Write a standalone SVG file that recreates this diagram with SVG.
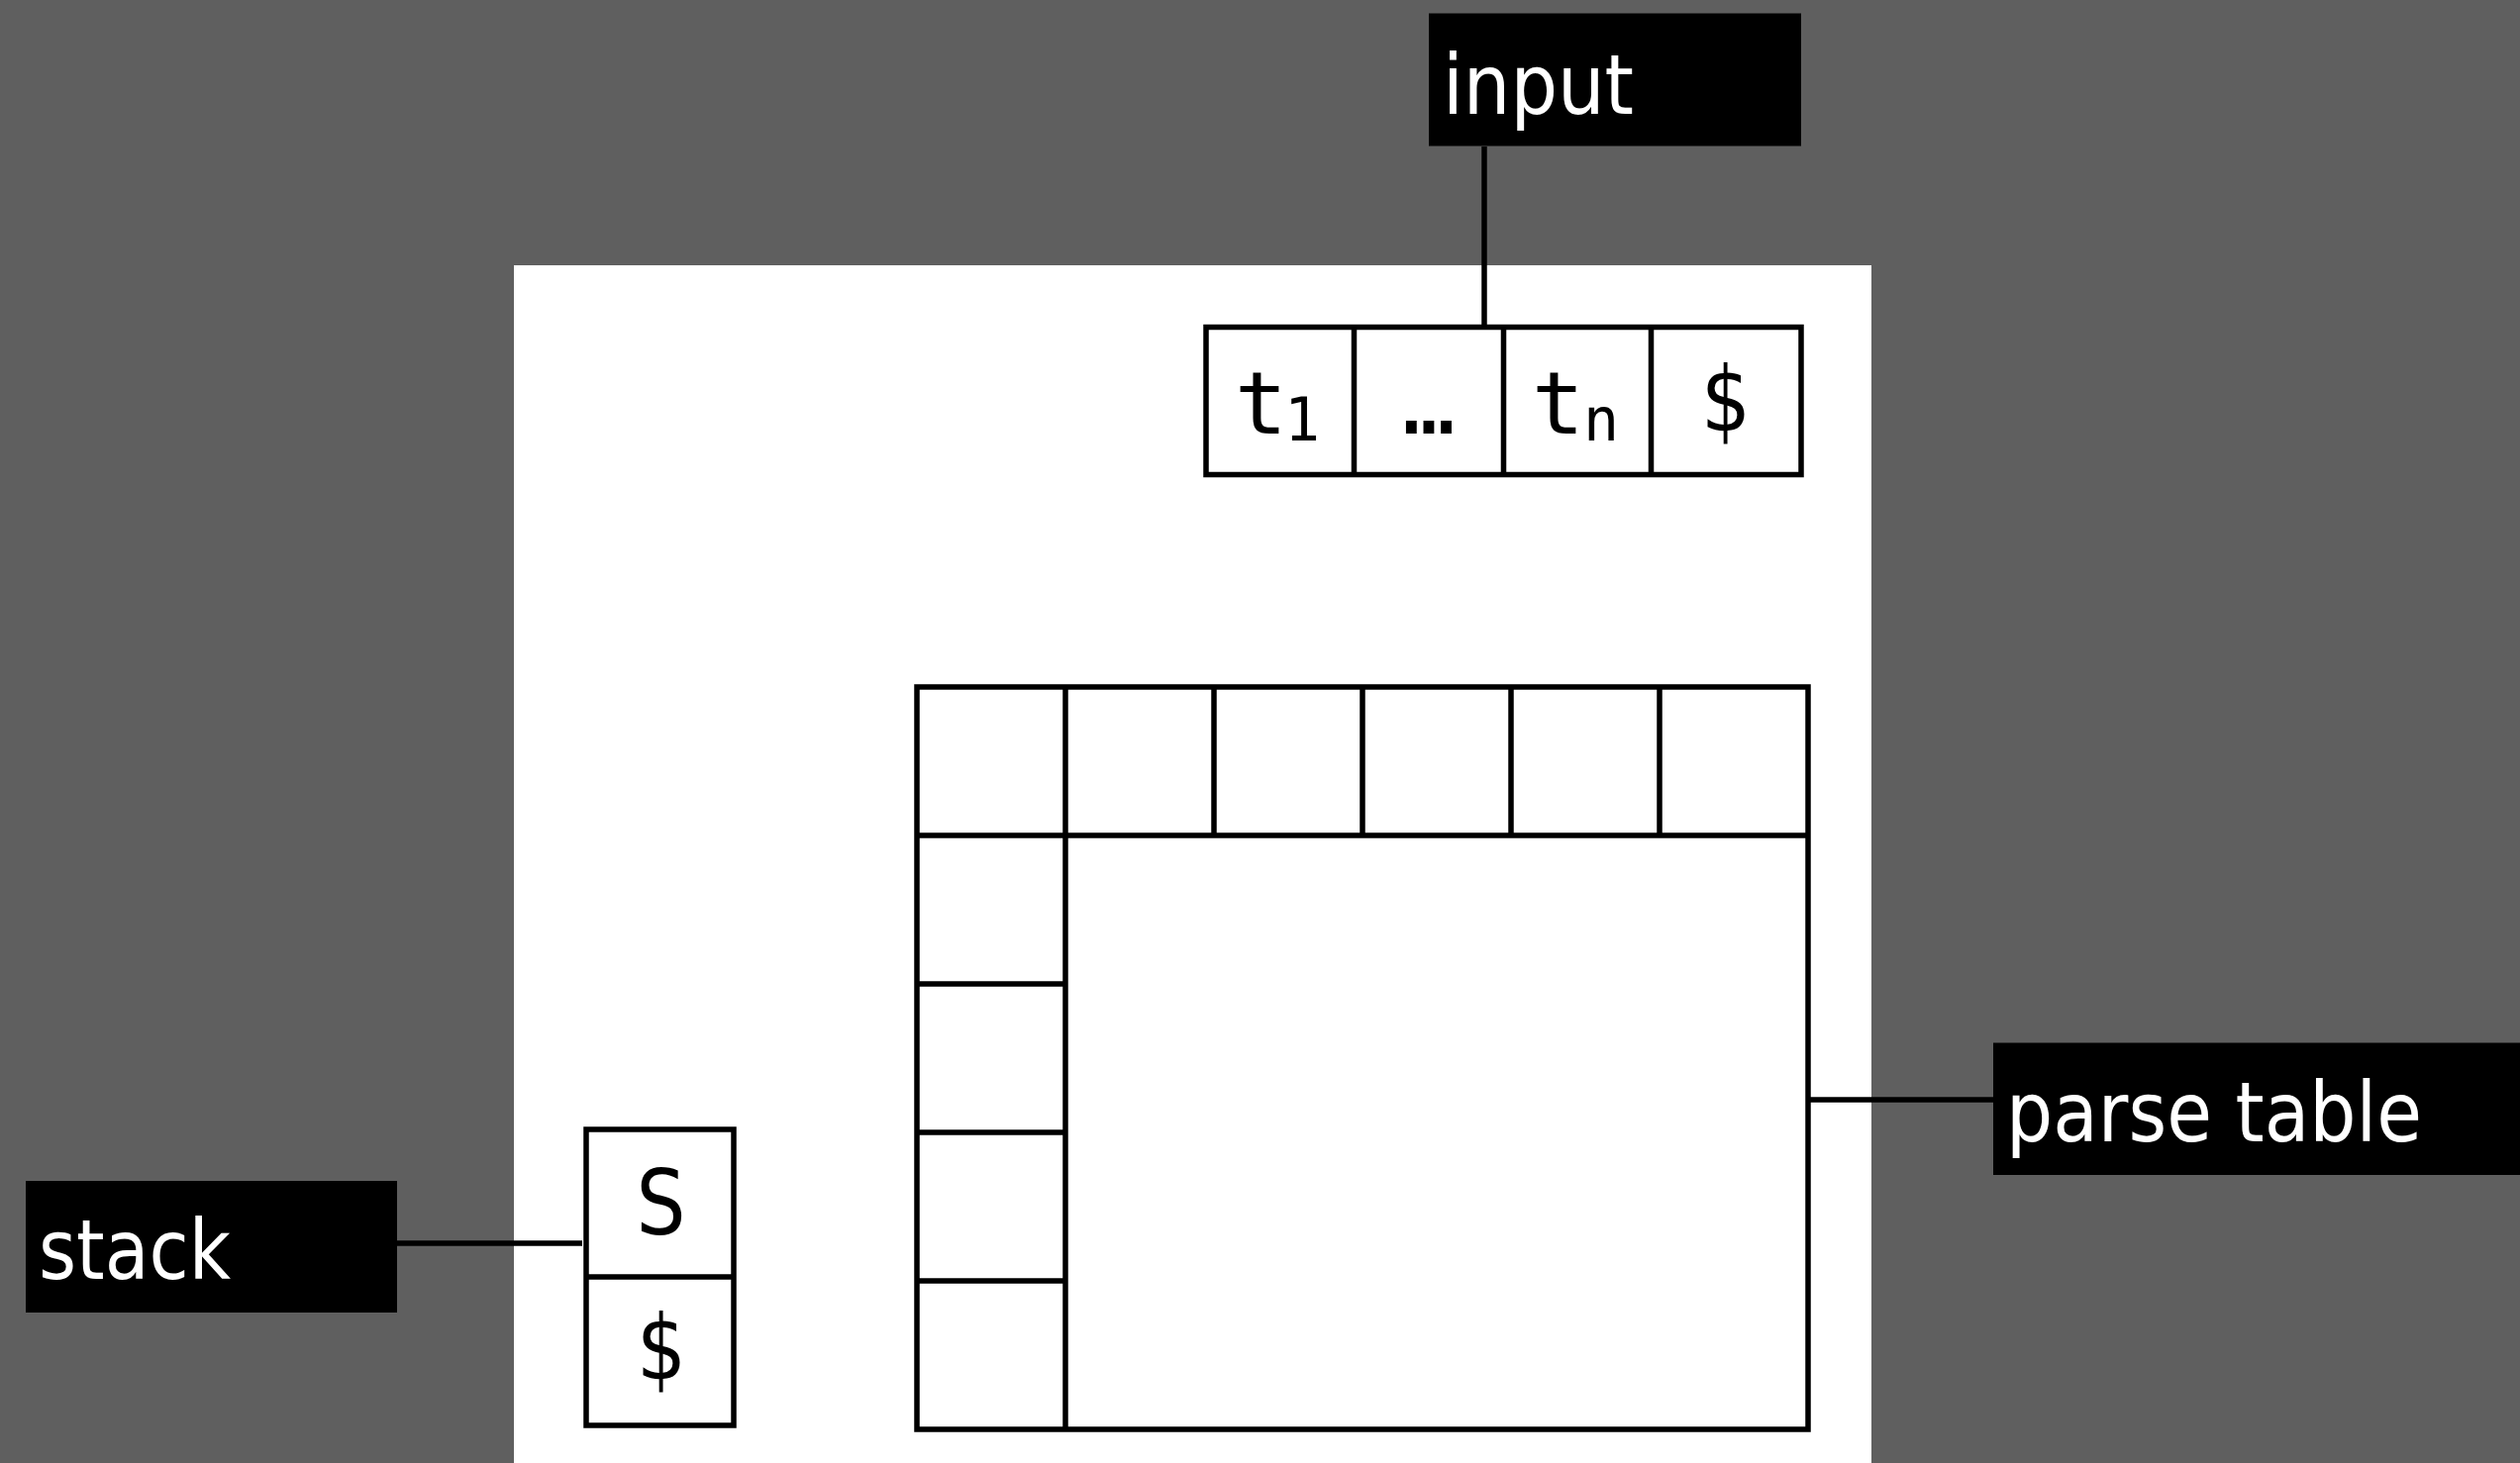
<svg xmlns="http://www.w3.org/2000/svg" width="2545" height="1478" viewBox="0 0 2545 1478">
<style>
.lbl{fill:#000}
.lbltxt{fill:#fff;font-family:"DejaVu Sans Condensed","DejaVu Sans",sans-serif;font-stretch:condensed;font-size:84px}
.cell{fill:#fff;stroke:#000;stroke-width:5.5}
.grid{stroke:#000;stroke-width:5.5;fill:none}
.conn{stroke:#000;stroke-width:5.5;fill:none}
.sym{fill:#000;font-family:"DejaVu Sans",sans-serif;font-size:90px;text-anchor:middle}
.mono{fill:#000;font-family:"DejaVu Sans Mono","Liberation Mono",monospace;font-size:88px}
</style>
<rect x="0" y="0" width="2545" height="1478" fill="#5f5f5f"/>
<rect x="519" y="268" width="1371" height="1215" fill="#fff"/>
<g id="connectors">
<line class="conn" x1="1499" y1="148" x2="1499" y2="329"/>
<line class="conn" x1="401" y1="1256" x2="588" y2="1256"/>
<line class="conn" x1="1828" y1="1111" x2="2013" y2="1111"/>
</g>
<g id="input-label">
<rect class="lbl" x="1443" y="13.5" width="376" height="134"/>
<text class="lbltxt" x="1457" y="115" textLength="193" lengthAdjust="spacingAndGlyphs">input</text>
</g>
<g id="stack-label">
<rect class="lbl" x="26" y="1193" width="375" height="133"/>
<text class="lbltxt" x="39" y="1292" textLength="194" lengthAdjust="spacingAndGlyphs">stack</text>
</g>
<g id="parse-table-label">
<rect class="lbl" x="2013" y="1053.5" width="540" height="133.5"/>
<text class="lbltxt" x="2026" y="1153" textLength="420" lengthAdjust="spacingAndGlyphs">parse table</text>
</g>
<g id="input-tape">
<rect class="cell" x="1218" y="330.5" width="601" height="149"/>
<line class="grid" x1="1367.5" y1="330.5" x2="1367.5" y2="479.5"/>
<line class="grid" x1="1518.5" y1="330.5" x2="1518.5" y2="479.5"/>
<line class="grid" x1="1667.5" y1="330.5" x2="1667.5" y2="479.5"/>
<text class="mono" x="1247" y="438">t<tspan x="1297" y="445" font-size="60">1</tspan></text>
<text class="mono" x="1443" y="438" text-anchor="middle">…</text>
<text class="mono" x="1547" y="438">t<tspan x="1599" y="445" font-size="60">n</tspan></text>
<text class="sym" x="1743" y="435" textLength="50" lengthAdjust="spacingAndGlyphs">$</text>
</g>
<g id="stack">
<rect class="cell" x="592" y="1141" width="149" height="299"/>
<line class="grid" x1="592" y1="1290" x2="741" y2="1290"/>
<text class="sym" x="667.5" y="1247" textLength="50" lengthAdjust="spacingAndGlyphs">S</text>
<text class="sym" x="668" y="1393" textLength="50" lengthAdjust="spacingAndGlyphs">$</text>
</g>
<g id="parse-table">
<rect class="cell" x="926" y="694" width="900" height="750"/>
<line class="grid" x1="926" y1="844" x2="1826" y2="844"/>
<line class="grid" x1="1076" y1="694" x2="1076" y2="1444"/>
<line class="grid" x1="1226" y1="694" x2="1226" y2="844"/>
<line class="grid" x1="1376" y1="694" x2="1376" y2="844"/>
<line class="grid" x1="1526" y1="694" x2="1526" y2="844"/>
<line class="grid" x1="1676" y1="694" x2="1676" y2="844"/>
<line class="grid" x1="926" y1="994" x2="1076" y2="994"/>
<line class="grid" x1="926" y1="1144" x2="1076" y2="1144"/>
<line class="grid" x1="926" y1="1294" x2="1076" y2="1294"/>
</g>
</svg>
